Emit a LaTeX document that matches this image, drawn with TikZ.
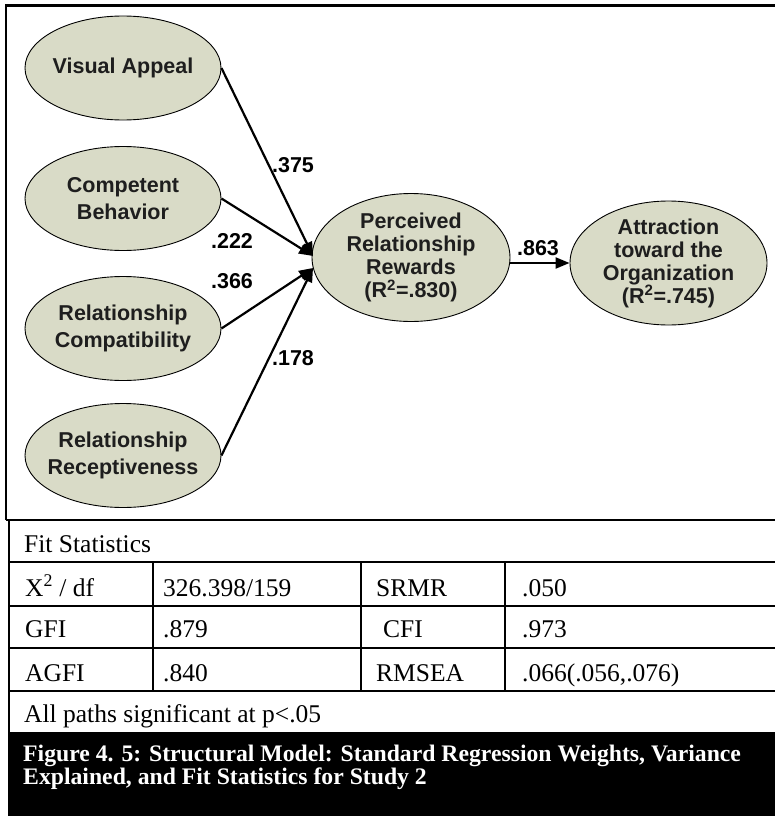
\documentclass[tikz,border=0pt]{standalone}
\usepackage{fontspec}
\setmainfont{Liberation Serif}
\newfontfamily\arialfont{Liberation Sans}
\usetikzlibrary{shapes.geometric,arrows.meta}

\definecolor{latentfill}{RGB}{217,219,199}
\definecolor{latenttext}{RGB}{30,30,30}

\tikzset{
  latent/.style={ellipse, draw=black, line width=0.9pt, fill=latentfill,
    inner sep=0pt, minimum width=196pt, minimum height=104pt},
  latentlabel/.style={align=center, inner sep=0pt, text=latenttext,
    font=\arialfont\bfseries\fontsize{21.5}{26.7}\selectfont},
  latentlabeltight/.style={latentlabel,
    font=\arialfont\bfseries\fontsize{21.5}{23}\selectfont},
  path/.style={line width=2.2pt, -{Triangle[length=14pt,width=11pt]}},
  weight/.style={anchor=base, inner sep=0pt,
    font=\arialfont\bfseries\fontsize{21.5}{24}\selectfont},
  frame/.style={line width=2.4pt},
  rule/.style={line width=2pt},
  cell/.style={anchor=base west, inner sep=0pt,
    font=\fontsize{25.5}{30}\selectfont},
  captext/.style={anchor=base west, inner sep=0pt, text=white,
    font=\bfseries\fontsize{23.7}{24}\selectfont}
}

\begin{document}
\begin{tikzpicture}[x=1pt,y=-1pt]
\useasboundingbox (0,0) rectangle (775,816);
\fill[white] (0,0) rectangle (775,816);

% frame of the path diagram
\draw[frame] (6.2,5.5) -- (775,5.5);
\draw[frame] (6.2,4.3) -- (6.2,520);

% exogenous constructs
\node[latent] (va) at (123,68) {};
\node[latentlabel] at (va) {Visual Appeal};
\node[latent] (cb) at (123,198.5) {};
\node[latentlabel] at (cb) {Competent\\Behavior};
\node[latent] (rc) at (123,328.5) {};
\node[latentlabel] at (rc) {Relationship\\Compatibility};
\node[latent] (rr) at (123,455.5) {};
\node[latentlabel] at (rr) {Relationship\\Receptiveness};

% endogenous constructs
\node[latent, minimum width=198pt, minimum height=128pt] (prr) at (411,257.5) {};
\node[latentlabeltight] at (prr) {Perceived\\Relationship\\Rewards\\(R\textsuperscript{2}=.830)};
\node[latent, minimum width=197pt, minimum height=124pt] (ato) at (668.5,263) {};
\node[latentlabeltight] at (ato) {Attraction\\toward the\\Organization\\(R\textsuperscript{2}=.745)};

% structural paths
\coordinate (tipU) at (313,256);
\coordinate (tipL) at (313,268);
\draw[path] (va.east) -- (tipU);
\draw[path] (cb.east) -- (tipU);
\draw[path] (rc.east) -- (tipL);
\draw[path] (rr.east) -- (tipL);
\draw[path] ([yshift=-5.5pt]prr.east) -- (ato.west);

% standardized weights
\node[weight] (w1) at (293,172) {.375};
\node[weight] (w2) at (232,248) {.222};
\node[weight] (w3) at (232,288) {.366};
\node[weight] (w4) at (293,365) {.178};
\node[weight] (w5) at (538,255) {.863};

% fit statistics table
\draw[line width=2.6pt] (6,520) -- (775,520);
\draw[rule] (9,562.3) -- (775,562.3);
\draw[rule] (9,605.8) -- (775,605.8);
\draw[rule] (9,647.5) -- (775,647.5);
\draw[rule] (9,690.8) -- (775,690.8);
\draw[rule] (9,520) -- (9,733);
\foreach \cx in {153,361,505} \draw[rule] (\cx,562.3) -- (\cx,690.8);

\node[cell] (fit) at (24,552) {Fit Statistics};
\node[cell] (c11) at (25,596) {X\textsuperscript{2} / df};
\node[cell] (c12) at (163,596) {326.398/159};
\node[cell] (c13) at (376,596) {SRMR};
\node[cell] (c14) at (522,596) {.050};
\node[cell] (c21) at (25,637.5) {GFI};
\node[cell] (c22) at (163,637.5) {.879};
\node[cell] (c23) at (383,637.5) {CFI};
\node[cell] (c24) at (522,637.5) {.973};
\node[cell] (c31) at (25,681) {AGFI};
\node[cell] (c32) at (163,681) {.840};
\node[cell] (c33) at (376,681) {RMSEA};
\node[cell] (c34) at (522,681) {.066(.056,.076)};
\node[cell] (note) at (24,722) {All paths significant at p<.05};

% caption band
\fill[black] (8,732.3) rectangle (775,816);
\node[captext] (cap1) at (23,761) {Figure 4. 5: Structural Model: Standard Regression Weights, Variance};
\node[captext] (cap2) at (23,784.5) {Explained, and Fit Statistics for Study 2};
\end{tikzpicture}
\end{document}
